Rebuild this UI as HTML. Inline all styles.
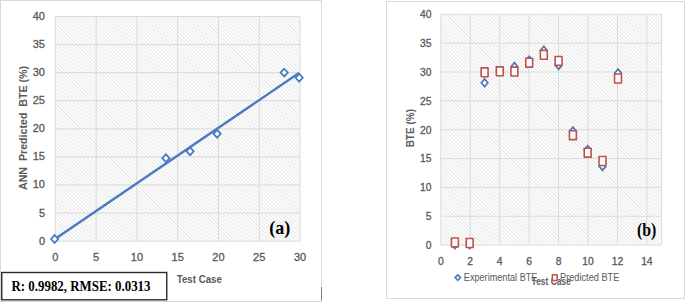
<!DOCTYPE html>
<html><head><meta charset="utf-8"><style>
html,body{margin:0;padding:0;background:#fff;width:685px;height:302px;overflow:hidden}
svg{display:block}
text{font-family:"Liberation Sans",sans-serif}
.tk{font-size:10.3px;fill:#595959;stroke:#595959;stroke-width:0.3px}
.at{font-size:10px;font-weight:bold;fill:#595959}
.at2{font-size:10px;font-weight:bold;fill:#5f5f5f}
.lg{font-size:10px;fill:#595959}
.lab{font-family:"Liberation Serif",serif;font-size:19px;font-weight:bold;fill:#000}
.rb{font-family:"Liberation Serif",serif;font-size:13px;font-weight:bold;fill:#000}
</style></head><body>
<svg width="685" height="302" viewBox="0 0 685 302">
<defs>
<pattern id="hatch" patternUnits="userSpaceOnUse" width="2.69" height="2.69" patternTransform="translate(0.8,0) rotate(-45)">
<rect width="2.69" height="2.69" fill="#fff"/><rect x="0" y="0" width="1.0" height="2.69" fill="#e6e6e6"/>
</pattern>
<pattern id="hatch2" patternUnits="userSpaceOnUse" width="2.69" height="2.69" patternTransform="translate(1.5,0) rotate(-45)">
<rect width="2.69" height="2.69" fill="#fff"/><rect x="0" y="0" width="1.0" height="2.69" fill="#e6e6e6"/>
</pattern>
</defs>
<rect x="0.5" y="0.5" width="321" height="301" fill="#fff" stroke="#d9d9d9" stroke-width="1"/>
<rect x="55.4" y="16.5" width="244.6" height="224.7" fill="url(#hatch)"/>
<line x1="55.40" y1="16.5" x2="55.40" y2="241.2" stroke="#dadada" stroke-width="1"/>
<line x1="96.17" y1="16.5" x2="96.17" y2="241.2" stroke="#dadada" stroke-width="1"/>
<line x1="136.93" y1="16.5" x2="136.93" y2="241.2" stroke="#dadada" stroke-width="1"/>
<line x1="177.70" y1="16.5" x2="177.70" y2="241.2" stroke="#dadada" stroke-width="1"/>
<line x1="218.47" y1="16.5" x2="218.47" y2="241.2" stroke="#dadada" stroke-width="1"/>
<line x1="259.23" y1="16.5" x2="259.23" y2="241.2" stroke="#dadada" stroke-width="1"/>
<line x1="300.00" y1="16.5" x2="300.00" y2="241.2" stroke="#dadada" stroke-width="1"/>
<line x1="55.4" y1="16.50" x2="300" y2="16.50" stroke="#dadada" stroke-width="1"/>
<line x1="55.4" y1="44.59" x2="300" y2="44.59" stroke="#dadada" stroke-width="1"/>
<line x1="55.4" y1="72.67" x2="300" y2="72.67" stroke="#dadada" stroke-width="1"/>
<line x1="55.4" y1="100.76" x2="300" y2="100.76" stroke="#dadada" stroke-width="1"/>
<line x1="55.4" y1="128.85" x2="300" y2="128.85" stroke="#dadada" stroke-width="1"/>
<line x1="55.4" y1="156.94" x2="300" y2="156.94" stroke="#dadada" stroke-width="1"/>
<line x1="55.4" y1="185.02" x2="300" y2="185.02" stroke="#dadada" stroke-width="1"/>
<line x1="55.4" y1="213.11" x2="300" y2="213.11" stroke="#dadada" stroke-width="1"/>
<line x1="55.4" y1="241.20" x2="300" y2="241.20" stroke="#dadada" stroke-width="1"/>
<text x="45" y="19.90" text-anchor="end" class="tk" style="font-size:11px">40</text>
<text x="45" y="47.99" text-anchor="end" class="tk" style="font-size:11px">35</text>
<text x="45" y="76.08" text-anchor="end" class="tk" style="font-size:11px">30</text>
<text x="45" y="104.16" text-anchor="end" class="tk" style="font-size:11px">25</text>
<text x="45" y="132.25" text-anchor="end" class="tk" style="font-size:11px">20</text>
<text x="45" y="160.34" text-anchor="end" class="tk" style="font-size:11px">15</text>
<text x="45" y="188.42" text-anchor="end" class="tk" style="font-size:11px">10</text>
<text x="45" y="216.51" text-anchor="end" class="tk" style="font-size:11px">5</text>
<text x="45" y="244.60" text-anchor="end" class="tk" style="font-size:11px">0</text>
<text x="55.40" y="261" text-anchor="middle" class="tk" style="font-size:11px">0</text>
<text x="96.17" y="261" text-anchor="middle" class="tk" style="font-size:11px">5</text>
<text x="136.93" y="261" text-anchor="middle" class="tk" style="font-size:11px">10</text>
<text x="177.70" y="261" text-anchor="middle" class="tk" style="font-size:11px">15</text>
<text x="218.47" y="261" text-anchor="middle" class="tk" style="font-size:11px">20</text>
<text x="259.23" y="261" text-anchor="middle" class="tk" style="font-size:11px">25</text>
<text x="300.00" y="261" text-anchor="middle" class="tk" style="font-size:11px">30</text>
<text transform="translate(26.6,128) rotate(-90)" text-anchor="middle" class="at" style="font-size:10.6px" textLength="124" lengthAdjust="spacingAndGlyphs">ANN&#160; Predicted&#160; BTE (%)</text>
<text x="199.3" y="282.5" text-anchor="middle" class="at" textLength="45" lengthAdjust="spacingAndGlyphs">Test Case</text>
<line x1="55" y1="239" x2="299" y2="73" stroke="#4a7bc0" stroke-width="2.4"/>
<path d="M54.60 235.15L58.20 239.00L54.60 242.85L51.00 239.00Z" fill="#fff" stroke="#4a7bc0" stroke-width="1.8"/>
<path d="M165.90 154.35L169.50 158.20L165.90 162.05L162.30 158.20Z" fill="#fff" stroke="#4a7bc0" stroke-width="1.8"/>
<path d="M190.10 147.45L193.70 151.30L190.10 155.15L186.50 151.30Z" fill="#fff" stroke="#4a7bc0" stroke-width="1.8"/>
<path d="M217.10 129.95L220.70 133.80L217.10 137.65L213.50 133.80Z" fill="#fff" stroke="#4a7bc0" stroke-width="1.8"/>
<path d="M284.20 68.75L287.80 72.60L284.20 76.45L280.60 72.60Z" fill="#fff" stroke="#4a7bc0" stroke-width="1.8"/>
<path d="M299.20 73.90L302.80 77.75L299.20 81.60L295.60 77.75Z" fill="#fff" stroke="#4a7bc0" stroke-width="1.8"/>
<text x="269.3" y="234.3" class="lab" textLength="21.1" lengthAdjust="spacingAndGlyphs">(a)</text>
<rect x="1.75" y="272.5" width="165" height="27.3" fill="#fff" stroke="#2b2b2b" stroke-width="1.4"/>
<text x="11.5" y="291" class="rb" style="font-size:14.5px" textLength="139" lengthAdjust="spacingAndGlyphs">R: 0.9982, RMSE: 0.0313</text>
<line x1="321.5" y1="287" x2="321.5" y2="300.5" stroke="#808080" stroke-width="1"/>
<rect x="386.5" y="1.5" width="298" height="297" fill="#fff" stroke="#d9d9d9" stroke-width="1"/>
<rect x="440.5" y="14.3" width="221.10" height="230.80" fill="url(#hatch2)"/>
<line x1="440.80" y1="14.3" x2="440.80" y2="245.1" stroke="#dcdcdc" stroke-width="1"/>
<line x1="470.24" y1="14.3" x2="470.24" y2="245.1" stroke="#dcdcdc" stroke-width="1"/>
<line x1="499.68" y1="14.3" x2="499.68" y2="245.1" stroke="#dcdcdc" stroke-width="1"/>
<line x1="529.12" y1="14.3" x2="529.12" y2="245.1" stroke="#dcdcdc" stroke-width="1"/>
<line x1="558.56" y1="14.3" x2="558.56" y2="245.1" stroke="#dcdcdc" stroke-width="1"/>
<line x1="588.00" y1="14.3" x2="588.00" y2="245.1" stroke="#dcdcdc" stroke-width="1"/>
<line x1="617.44" y1="14.3" x2="617.44" y2="245.1" stroke="#dcdcdc" stroke-width="1"/>
<line x1="646.88" y1="14.3" x2="646.88" y2="245.1" stroke="#dcdcdc" stroke-width="1"/>
<line x1="661.6" y1="14.3" x2="661.6" y2="245.1" stroke="#dcdcdc" stroke-width="1"/>
<line x1="440.5" y1="245.10" x2="661.6" y2="245.10" stroke="#dcdcdc" stroke-width="1"/>
<line x1="440.5" y1="216.25" x2="661.6" y2="216.25" stroke="#dcdcdc" stroke-width="1"/>
<line x1="440.5" y1="187.40" x2="661.6" y2="187.40" stroke="#dcdcdc" stroke-width="1"/>
<line x1="440.5" y1="158.55" x2="661.6" y2="158.55" stroke="#dcdcdc" stroke-width="1"/>
<line x1="440.5" y1="129.70" x2="661.6" y2="129.70" stroke="#dcdcdc" stroke-width="1"/>
<line x1="440.5" y1="100.85" x2="661.6" y2="100.85" stroke="#dcdcdc" stroke-width="1"/>
<line x1="440.5" y1="72.00" x2="661.6" y2="72.00" stroke="#dcdcdc" stroke-width="1"/>
<line x1="440.5" y1="43.15" x2="661.6" y2="43.15" stroke="#dcdcdc" stroke-width="1"/>
<line x1="440.5" y1="14.30" x2="661.6" y2="14.30" stroke="#dcdcdc" stroke-width="1"/>
<text x="431.5" y="248.90" text-anchor="end" class="tk">0</text>
<text x="431.5" y="220.05" text-anchor="end" class="tk">5</text>
<text x="431.5" y="191.20" text-anchor="end" class="tk">10</text>
<text x="431.5" y="162.35" text-anchor="end" class="tk">15</text>
<text x="431.5" y="133.50" text-anchor="end" class="tk">20</text>
<text x="431.5" y="104.65" text-anchor="end" class="tk">25</text>
<text x="431.5" y="75.80" text-anchor="end" class="tk">30</text>
<text x="431.5" y="46.95" text-anchor="end" class="tk">35</text>
<text x="431.5" y="18.10" text-anchor="end" class="tk">40</text>
<text x="440.80" y="264.8" text-anchor="middle" class="tk">0</text>
<text x="470.24" y="264.8" text-anchor="middle" class="tk">2</text>
<text x="499.68" y="264.8" text-anchor="middle" class="tk">4</text>
<text x="529.12" y="264.8" text-anchor="middle" class="tk">6</text>
<text x="558.56" y="264.8" text-anchor="middle" class="tk">8</text>
<text x="588.00" y="264.8" text-anchor="middle" class="tk">10</text>
<text x="617.44" y="264.8" text-anchor="middle" class="tk">12</text>
<text x="646.88" y="264.8" text-anchor="middle" class="tk">14</text>
<text transform="translate(414,128.2) rotate(-90)" text-anchor="middle" class="at" style="font-size:10.6px" textLength="38.3" lengthAdjust="spacingAndGlyphs">BTE (%)</text>
<path d="M454.90 240.90L458.10 244.80L454.90 248.70L451.70 244.80Z" fill="#fff" stroke="#4a7bc0" stroke-width="1.8"/>
<path d="M469.70 240.90L472.90 244.80L469.70 248.70L466.50 244.80Z" fill="#fff" stroke="#4a7bc0" stroke-width="1.8"/>
<path d="M484.60 78.90L487.80 82.80L484.60 86.70L481.40 82.80Z" fill="#fff" stroke="#4a7bc0" stroke-width="1.8"/>
<path d="M499.80 67.40L503.00 71.30L499.80 75.20L496.60 71.30Z" fill="#fff" stroke="#4a7bc0" stroke-width="1.8"/>
<path d="M514.40 62.60L517.60 66.50L514.40 70.40L511.20 66.50Z" fill="#fff" stroke="#4a7bc0" stroke-width="1.8"/>
<path d="M529.20 56.40L532.40 60.30L529.20 64.20L526.00 60.30Z" fill="#fff" stroke="#4a7bc0" stroke-width="1.8"/>
<path d="M543.80 46.30L547.00 50.20L543.80 54.10L540.60 50.20Z" fill="#fff" stroke="#4a7bc0" stroke-width="1.8"/>
<path d="M558.60 61.50L561.80 65.40L558.60 69.30L555.40 65.40Z" fill="#fff" stroke="#4a7bc0" stroke-width="1.8"/>
<path d="M572.90 127.10L576.10 131.00L572.90 134.90L569.70 131.00Z" fill="#fff" stroke="#4a7bc0" stroke-width="1.8"/>
<path d="M587.70 145.70L590.90 149.60L587.70 153.50L584.50 149.60Z" fill="#fff" stroke="#4a7bc0" stroke-width="1.8"/>
<path d="M602.50 162.50L605.70 166.40L602.50 170.30L599.30 166.40Z" fill="#fff" stroke="#4a7bc0" stroke-width="1.8"/>
<path d="M618.00 69.10L621.20 73.00L618.00 76.90L614.80 73.00Z" fill="#fff" stroke="#4a7bc0" stroke-width="1.8"/>
<rect x="451.45" y="237.95" width="6.9" height="8.9" fill="#fff" stroke="#c0504d" stroke-width="1.6" stroke-linejoin="round"/>
<rect x="466.25" y="238.55" width="6.9" height="8.9" fill="#fff" stroke="#c0504d" stroke-width="1.6" stroke-linejoin="round"/>
<rect x="481.15" y="67.85" width="6.9" height="8.9" fill="#fff" stroke="#c0504d" stroke-width="1.6" stroke-linejoin="round"/>
<rect x="496.35" y="66.85" width="6.9" height="8.9" fill="#fff" stroke="#c0504d" stroke-width="1.6" stroke-linejoin="round"/>
<rect x="510.95" y="67.15" width="6.9" height="8.9" fill="#fff" stroke="#c0504d" stroke-width="1.6" stroke-linejoin="round"/>
<rect x="525.75" y="58.25" width="6.9" height="8.9" fill="#fff" stroke="#c0504d" stroke-width="1.6" stroke-linejoin="round"/>
<rect x="540.35" y="50.35" width="6.9" height="8.9" fill="#fff" stroke="#c0504d" stroke-width="1.6" stroke-linejoin="round"/>
<rect x="555.15" y="56.45" width="6.9" height="8.9" fill="#fff" stroke="#c0504d" stroke-width="1.6" stroke-linejoin="round"/>
<rect x="569.45" y="130.75" width="6.9" height="8.9" fill="#fff" stroke="#c0504d" stroke-width="1.6" stroke-linejoin="round"/>
<rect x="584.25" y="148.25" width="6.9" height="8.9" fill="#fff" stroke="#c0504d" stroke-width="1.6" stroke-linejoin="round"/>
<rect x="599.05" y="156.55" width="6.9" height="8.9" fill="#fff" stroke="#c0504d" stroke-width="1.6" stroke-linejoin="round"/>
<rect x="614.55" y="74.05" width="6.9" height="8.9" fill="#fff" stroke="#c0504d" stroke-width="1.6" stroke-linejoin="round"/>
<text x="637" y="235.5" class="lab" textLength="19.4" lengthAdjust="spacingAndGlyphs">(b)</text>
<text x="531.6" y="284.7" class="at2" textLength="39.4" lengthAdjust="spacingAndGlyphs">Test Case</text>
<path d="M457.80 274.90L460.50 277.60L457.80 280.30L455.10 277.60Z" fill="#fff" stroke="#4a7bc0" stroke-width="1.6"/>
<text x="463.8" y="280.5" class="lg" textLength="73.6" lengthAdjust="spacingAndGlyphs">Experimental BTE</text>
<rect x="552.35" y="274.70" width="4.8" height="5.8" fill="#fff" stroke="#c0504d" stroke-width="1.5" stroke-linejoin="round"/>
<text x="560" y="280.5" class="lg" textLength="59.4" lengthAdjust="spacingAndGlyphs">Predicted BTE</text>
</svg>
</body></html>
